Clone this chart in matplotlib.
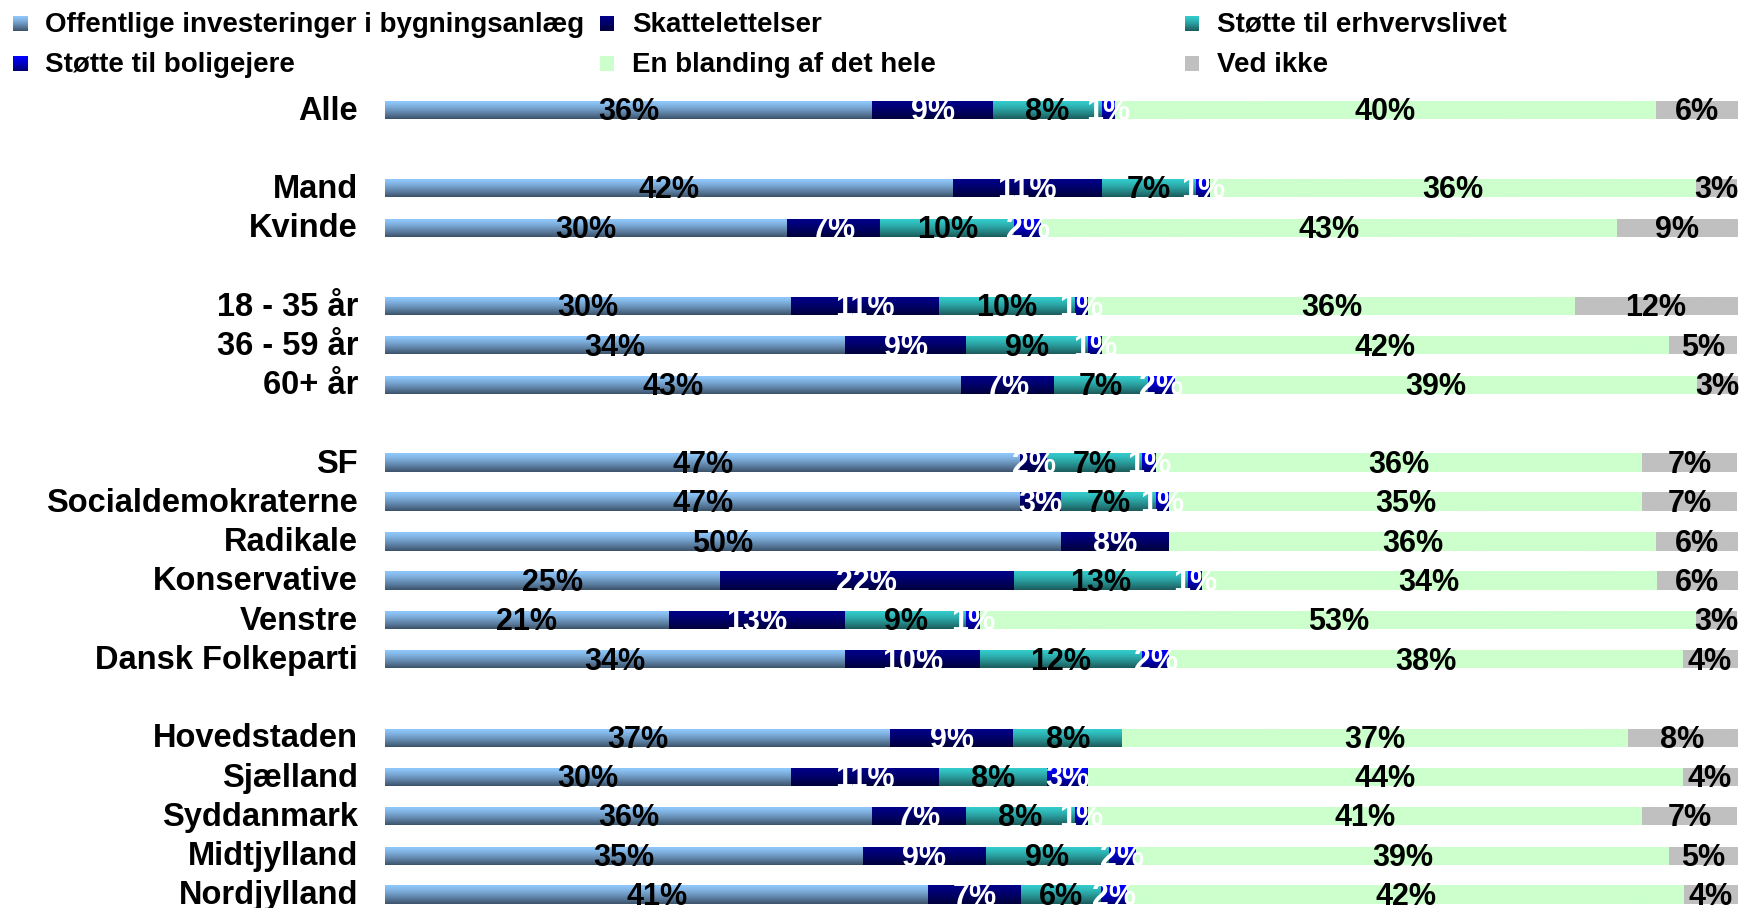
import numpy as np
import matplotlib
matplotlib.use("Agg")
import matplotlib.pyplot as plt
from matplotlib.colors import to_rgb

plt.rcParams['font.family'] = ['Liberation Sans', 'DejaVu Sans']

categories = ["Alle", "Mand", "Kvinde", "18 - 35 år", "36 - 59 år", "60+ år",
              "SF", "Socialdemokraterne", "Radikale", "Konservative", "Venstre",
              "Dansk Folkeparti", "Hovedstaden", "Sjælland", "Syddanmark",
              "Midtjylland", "Nordjylland"]
slots = [0, 2, 3, 5, 6, 7, 9, 10, 11, 12, 13, 14, 16, 17, 18, 19, 20]

series = ["Offentlige investeringer i bygningsanlæg", "Skattelettelser",
          "Støtte til erhvervslivet", "Støtte til boligejere",
          "En blanding af det hele", "Ved ikke"]

offentlige = [36, 42, 30, 30, 34, 43, 47, 47, 50, 25, 21, 34, 37, 30, 36, 35, 41]
skat       = [9, 11, 7, 11, 9, 7, 2, 3, 8, 22, 13, 10, 9, 11, 7, 9, 7]
erhverv    = [8, 7, 10, 10, 9, 7, 7, 7, 0, 13, 9, 12, 8, 8, 8, 9, 6]
bolig      = [1, 1, 2, 1, 1, 2, 1, 1, 0, 1, 1, 2, 0, 3, 1, 2, 2]
blanding   = [40, 36, 43, 36, 42, 39, 36, 35, 36, 34, 53, 38, 37, 44, 41, 39, 42]
vedikke    = [6, 3, 9, 12, 5, 3, 7, 7, 6, 6, 3, 4, 8, 4, 7, 5, 4]

data = np.array([offentlige, skat, erhverv, bolig, blanding, vedikke], dtype=float)

# (top colour, bottom colour) for each series
grads = [("#90C8FC", "#3C526A"),
         ("#000088", "#00003A"),
         ("#33CCCC", "#1C5A5A"),
         ("#0000FF", "#00006E"),
         ("#CCFFCC", "#CCFFCC"),
         ("#C0C0C0", "#C0C0C0")]
label_colors = ["black", "white", "black", "white", "black", "black"]


def grad_img(top, bottom, n=64):
    t = np.linspace(0, 1, n)[:, None] ** 1.25
    c0 = np.array(to_rgb(top))
    c1 = np.array(to_rgb(bottom))
    img = (1 - t)[:, :, None] * c0[None, None, :] + t[:, :, None] * c1[None, None, :]
    return np.repeat(img, 2, axis=1)


W, H = 1742, 908
fig = plt.figure(figsize=(W / 100, H / 100), dpi=100)

ax_left_px, ax_right_px = 385, 1737
y0_px, step_px = 110, 39.25
ax = fig.add_axes([ax_left_px / W, 0, (ax_right_px - ax_left_px) / W, 1])
ytop = -y0_px / step_px
ybot = (H - y0_px) / step_px
bh = 18 / step_px

totals = data.sum(axis=0)
for j, (cat, s) in enumerate(zip(categories, slots)):
    left = 0.0
    for k in range(len(series)):
        v = data[k, j]
        if v <= 0:
            continue
        w = v / totals[j] * 100
        top, bottom = grads[k]
        ax.imshow(grad_img(top, bottom), extent=[left, left + w, s + bh / 2, s - bh / 2],
                  aspect='auto', interpolation='bilinear', zorder=1)
        ax.text(left + w / 2, s + bh / 2 + 1 / step_px, f"{int(v)}%", ha='center', va='baseline',
                fontsize=22, fontweight='bold', color=label_colors[k], zorder=3)
        left += w
    ax.text((358 - ax_left_px) / (ax_right_px - ax_left_px), s + bh / 2 + 0.5 / step_px, cat,
            transform=ax.get_yaxis_transform(), ha='right', va='baseline',
            fontsize=23.5, fontweight='bold', color='black', clip_on=False)

ax.set_xlim(0, 100)
ax.set_ylim(ybot, ytop)
ax.set_autoscale_on(False)
ax.axis('off')

# legend drawn in pixel coordinates on an overlay axes
lax = fig.add_axes([0, 0, 1, 1], zorder=5)
marker_x = [13, 600, 1185]
text_x = [45, 632, 1217]
rows_marker = [(16, 31), (56, 71)]
rows_base = [32, 72]
order = [(0, 0, 0), (1, 0, 1), (2, 0, 2), (3, 1, 0), (4, 1, 1), (5, 1, 2)]
for k, r, c in order:
    mt, mb = rows_marker[r]
    top, bottom = grads[k]
    lax.imshow(grad_img(top, bottom), extent=[marker_x[c], marker_x[c] + 14, mb, mt],
               aspect='auto', interpolation='bilinear')
    lax.text(text_x[c], rows_base[r], series[k], ha='left', va='baseline',
             fontsize=20, fontweight='bold', color='black')
lax.set_xlim(0, W)
lax.set_ylim(H, 0)
lax.axis('off')

fig.savefig("out.png", dpi=100)
